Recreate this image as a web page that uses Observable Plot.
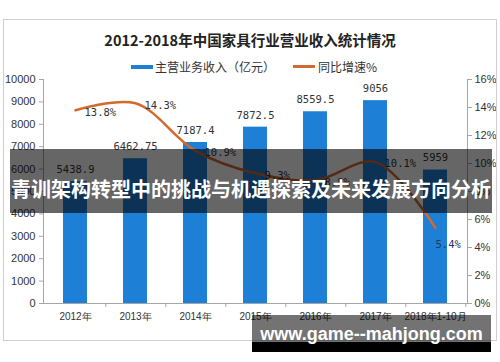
<!DOCTYPE html>
<html>
<head>
<meta charset="utf-8">
<script src="https://cdn.jsdelivr.net/npm/d3@7"></script>
<script src="https://cdn.jsdelivr.net/npm/@observablehq/plot@0.6"></script>
<style>
  body { margin: 0; background: #fff; }
  #wrap { position: relative; width: 500px; height: 362px; overflow: hidden; font-family: "Noto Sans CJK SC", "Liberation Sans", sans-serif; }
  #wrap svg { position: absolute; left: 0; top: 0; }
  .ov { position: absolute; pointer-events: none; }
</style>
</head>
<body>
<div id="wrap"></div>
<script>
const years = ["2012年", "2013年", "2014年", "2015年", "2016年", "2017年", "2018年1-10月"];
const revenue = [5438.9, 6462.75, 7187.4, 7872.5, 8559.5, 9056, 5959];
const growth = [13.8, 14.3, 10.9, 9.3, 8.8, 10.1, 5.4];
const leftTicks = [0, 1000, 2000, 3000, 4000, 5000, 6000, 7000, 8000, 9000, 10000];
const rightTicks = [0, 2, 4, 6, 8, 10, 12, 14, 16];

const title = "2012-2018年中国家具行业营业收入统计情况";
const legendBar = "主营业务收入（亿元）";
const legendLine = "同比增速%";
const banner = "青训架构转型中的挑战与机遇探索及未来发展方向分析";
const site = "www.game--mahjong.com";

const k = 10000 / 16; // percent -> left-axis units
const data = years.map((y, i) => ({year: y, rev: revenue[i], pct: growth[i]}));

const blue = "#1e7fd6";
const orange = "#d2692e";
const axisGray = "#a6a6a6";

const chart = Plot.plot({
  width: 500,
  height: 362,
  marginLeft: 43,
  marginRight: 33,
  marginTop: 79,
  marginBottom: 59,
  style: {fontFamily: "Liberation Sans, Arial, sans-serif", fontSize: "11px", color: "#333", background: "transparent"},
  x: {type: "band", domain: years, paddingInner: 0.6, paddingOuter: 0.3, axis: null, label: null},
  y: {domain: [0, 10000], axis: null, label: null},
  marks: [
    Plot.barY(data, {x: "year", y: "rev", fill: blue}),
    Plot.ruleY([0], {stroke: axisGray}),
    Plot.frame({anchor: "left", stroke: axisGray}),
    Plot.frame({anchor: "right", stroke: axisGray}),
    Plot.axisY({anchor: "left", label: null, ticks: leftTicks, tickFormat: d => String(d), tickSize: 4, tickPadding: 4, stroke: axisGray, fill: "#333", fontSize: 11}),
    Plot.axisY({anchor: "right", label: null, ticks: rightTicks.map(p => p * k), tickFormat: d => Math.round(d / k) + "%", tickSize: 4, tickPadding: 3, stroke: axisGray, fill: "#333", fontSize: 11}),
    Plot.axisX({anchor: "bottom", label: null, tickSize: 0, tickPadding: 9, fill: "#333", fontSize: 10}),
    Plot.axisX({anchor: "bottom", label: null, tickSize: 4, tickFormat: () => "", dx: 30.3, stroke: axisGray}),
    Plot.text(data, {x: "year", y: "rev", text: d => String(d.rev), dy: -12, fill: "#333", fontSize: 10.5, fontFamily: "DejaVu Sans Mono, monospace"}),
    Plot.line(data, {x: "year", y: d => d.pct * k, stroke: orange, strokeWidth: 2.5, curve: "catmull-rom"}),
    Plot.text(data.slice(0, -1), {x: "year", y: d => d.pct * k, text: d => d.pct + "%", textAnchor: "start", dx: 9, dy: 2, fill: "#333", fontSize: 10.5, fontFamily: "DejaVu Sans Mono, monospace"}),
    Plot.text(data.slice(-1), {x: "year", y: d => d.pct * k, text: d => d.pct + "%", textAnchor: "start", dx: 0, dy: 17, fill: "#1f3864", fontSize: 10.5, fontFamily: "DejaVu Sans Mono, monospace"})
  ]
});

const wrap = document.getElementById("wrap");
wrap.appendChild(chart);

function ov(style, text) {
  const d = document.createElement("div");
  d.className = "ov";
  Object.assign(d.style, style);
  if (text) d.textContent = text;
  wrap.appendChild(d);
  return d;
}
// outer frame
ov({left: "3px", top: "19px", width: "494px", height: "322px", border: "1px solid #cfcfcf", boxSizing: "border-box"});
// title
ov({left: "0px", top: "30px", width: "500px", textAlign: "center", fontSize: "14.5px", fontWeight: "bold", lineHeight: "20px", color: "#222"}, title);
// legend
ov({left: "131px", top: "65px", width: "22px", height: "4px", background: blue});
ov({left: "155px", top: "59px", fontSize: "12px", lineHeight: "16px", color: "#333", whiteSpace: "nowrap"}, legendBar);
ov({left: "293px", top: "65px", width: "22px", height: "3px", background: orange});
ov({left: "318px", top: "59px", fontSize: "12px", lineHeight: "16px", color: "#333", whiteSpace: "nowrap"}, legendLine);
// banner
ov({left: "10px", top: "149px", width: "482px", height: "64px", background: "rgba(0,0,0,0.6)", color: "#fff", fontWeight: "bold", fontSize: "20px", lineHeight: "64px", textAlign: "center", whiteSpace: "nowrap", paddingTop: "8px", boxSizing: "border-box"}, banner);
// site watermark
ov({left: "252px", top: "315px", width: "239px", height: "27px", background: "rgba(0,0,0,0.55)"});
ov({left: "252px", top: "342px", width: "239px", height: "10px", background: "#000"});
ov({left: "252px", top: "322px", width: "239px", textAlign: "center", color: "#fff", fontWeight: "bold", fontSize: "18px", lineHeight: "24px", fontFamily: "Liberation Sans, Arial, sans-serif", whiteSpace: "nowrap"}, site);
</script>
</body>
</html>
